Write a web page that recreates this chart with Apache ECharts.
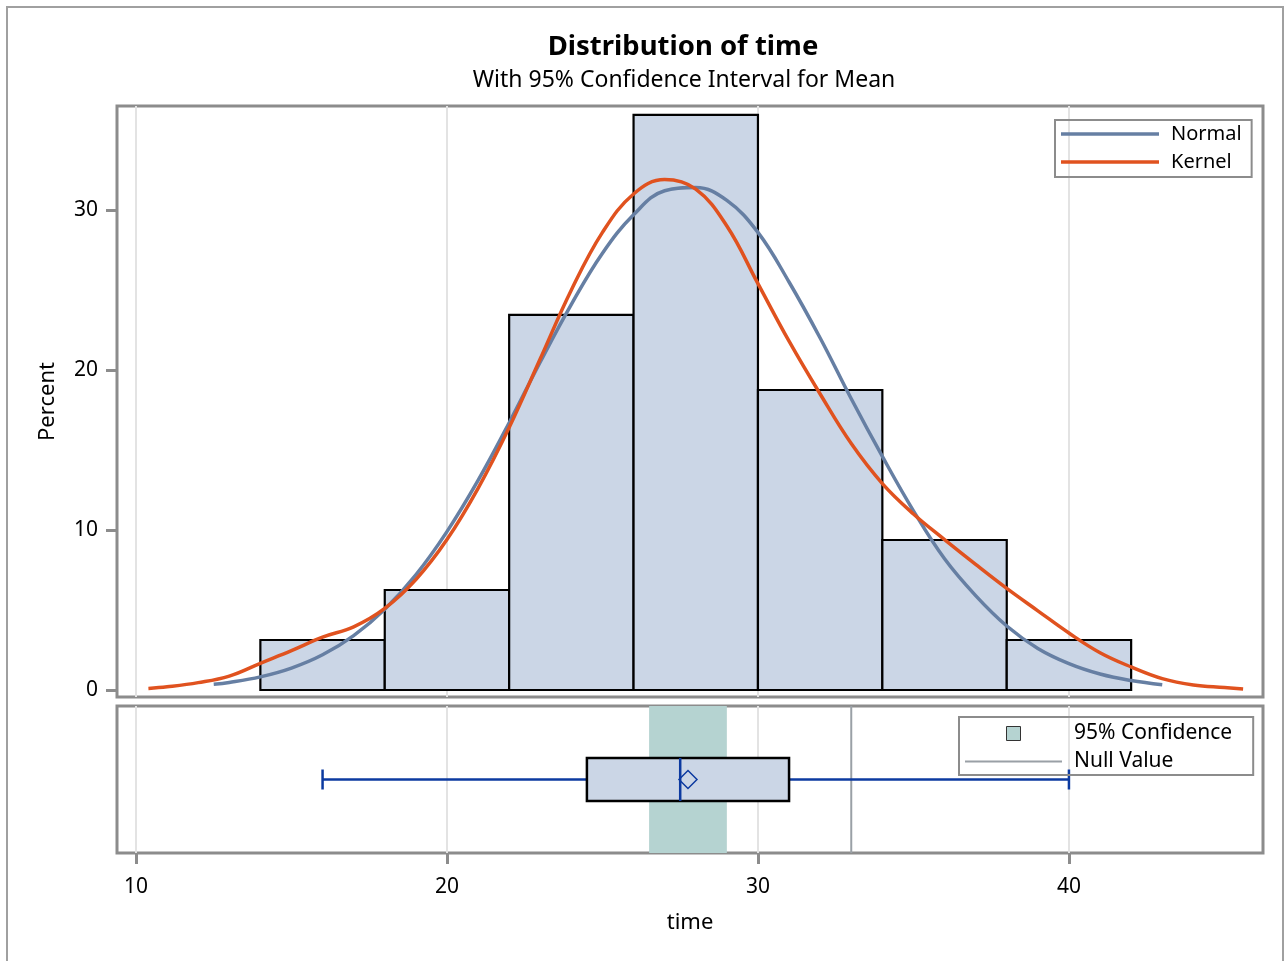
<!DOCTYPE html>
<html>
<head>
<meta charset="utf-8">
<title>Distribution of time</title>
<script src="https://cdn.jsdelivr.net/npm/echarts@6/dist/echarts.min.js"></script>
<style>
    html, body { margin: 0; padding: 0; background: #fff; }
    #main { width: 1285px; height: 961px; }
</style>
</head>
<body>
<div id="main"></div>
<script>
// histogram bins (percent of obs)
var binEdges = [14, 18, 22, 26, 30, 34, 38, 42];
var binPercent = [3.125, 6.25, 23.44, 35.94, 18.75, 9.375, 3.125];

// normal curve
var normalX = [12.5, 13, 14, 15, 16, 17, 18, 19, 20, 21, 22, 23, 24, 25, 26, 27, 28, 29, 30,
    31, 32, 33, 34, 35, 36, 37, 38, 39, 40, 41, 42, 43];
var normalY = [0.36, 0.47, 0.82, 1.37, 2.2, 3.4, 5.05, 7.2, 9.9, 13.1, 16.7, 20.5, 24.1, 27.3, 29.7, 31.2, 31.4, 30.6, 28.6,
    25.5, 22.0, 18.2, 14.6, 11.2, 8.2, 5.9, 4.0, 2.6, 1.65, 1.0, 0.59, 0.33];

// kernel curve
var kernelX = [10.4, 11, 12, 13, 14, 15, 16, 17, 18, 19, 20, 21, 22, 23, 24, 25, 26, 27, 28,
    29, 30, 31, 32, 33, 34, 35, 36, 37, 38, 39, 40, 41, 42, 43, 44, 45, 45.6];
var kernelY = [0.1, 0.2, 0.46, 0.87, 1.67, 2.46, 3.3, 3.95, 5.1, 6.9, 9.4, 12.6, 16.4, 20.7, 25.0, 28.6, 31.0, 31.9, 31.3,
    29.0, 25.4, 21.8, 18.5, 15.4, 12.9, 11.0, 9.4, 7.85, 6.35, 4.95, 3.56, 2.33, 1.44, 0.71, 0.31, 0.15, 0.06];

// box plot: min, q1, median, q3, max, mean
var boxStats = [16, 24.5, 27.5, 31, 40, 27.75];
var ciLimits = [26.5, 29.0];
var nullValue = 33;

var xTicks = [10, 20, 30, 40];
var yTicks = [0, 10, 20, 30];

var FONT = 'Noto Sans';
var FRAME = '#8c8c8c';
var LINE_ICON = 'path://M0,0L100,0L100,3.4L0,3.4Z';

function pairs(xs, ys) {
    var out = [];
    for (var i = 0; i < xs.length; i++) {
        out.push([xs[i], ys[i]]);
    }
    return out;
}

var histData = [];
for (var i = 0; i < binPercent.length; i++) {
    histData.push([binEdges[i], binEdges[i + 1], binPercent[i]]);
}

var myChart = echarts.init(document.getElementById('main'), null, {renderer: 'canvas'});

var option = {
    backgroundColor: '#fff',
    animation: false,
    textStyle: {fontFamily: FONT},
    graphic: [
        {
            type: 'rect', silent: true, z: -10,
            shape: {x: 7, y: 7, width: 1276, height: 1000},
            style: {fill: null, stroke: '#a0a0a0', lineWidth: 2}
        },
        {
            type: 'text', x: 683, y: 47,
            style: {
                text: 'Distribution of time', fontFamily: FONT, fontSize: 27.5, fontWeight: 'bold',
                fill: '#000', align: 'center', verticalAlign: 'middle'
            }
        },
        {
            type: 'text', x: 684, y: 80,
            style: {
                text: 'With 95% Confidence Interval for Mean', fontFamily: FONT, fontSize: 23,
                fill: '#000', align: 'center', verticalAlign: 'middle'
            }
        }
    ],
    legend: [
        {
            data: [
                {name: 'Normal', icon: LINE_ICON, itemStyle: {color: '#667fa3'}},
                {name: 'Kernel', icon: LINE_ICON, itemStyle: {color: '#e0521f'}}
            ],
            orient: 'vertical',
            left: 1055, top: 120,
            itemWidth: 98, itemHeight: 14, itemGap: 8,
            padding: [4, 10, 5, 6],
            borderColor: FRAME, borderWidth: 2,
            selectedMode: false,
            textStyle: {fontFamily: FONT, fontSize: 20, color: '#000', padding: [0, 0, 0, 7]}
        },
        {
            data: [
                {
                    name: '95% Confidence',
                    icon: 'path://M0,0L10,0L10,10L0,10Z',
                    itemStyle: {color: '#b5d3d1', borderColor: '#333', borderWidth: 1}
                },
                {name: 'Null Value', icon: 'path://M0,0L100,0L100,2.2L0,2.2Z', itemStyle: {color: '#9aa0a6'}}
            ],
            orient: 'vertical',
            left: 959, top: 717,
            itemWidth: 97, itemHeight: 14, itemGap: 7,
            padding: [6, 21, 3, 6],
            borderColor: FRAME, borderWidth: 2,
            selectedMode: false,
            textStyle: {fontFamily: FONT, fontSize: 21, color: '#000', padding: [0, 0, 0, 7]}
        }
    ],
    grid: [
        {left: 117, top: 106, width: 1146, height: 591, show: true, borderColor: FRAME, borderWidth: 3},
        {left: 117, top: 706, width: 1146, height: 147, show: true, borderColor: FRAME, borderWidth: 3}
    ],
    xAxis: [
        {
            type: 'value', gridIndex: 0, min: 9.39, max: 46.24,
            axisLine: {show: false},
            axisTick: {show: false, customValues: xTicks},
            axisLabel: {show: false, customValues: xTicks},
            splitLine: {show: true, lineStyle: {color: '#e3e3e3', width: 2}}
        },
        {
            type: 'value', gridIndex: 1, min: 9.39, max: 46.24,
            name: 'time', nameLocation: 'middle', nameGap: 59,
            nameTextStyle: {fontFamily: FONT, fontSize: 22, color: '#000'},
            axisLine: {show: false},
            axisTick: {show: true, length: 11, customValues: xTicks, lineStyle: {color: FRAME, width: 3}},
            axisLabel: {customValues: xTicks, margin: 24, fontFamily: FONT, fontSize: 21, color: '#000'},
            splitLine: {show: true, lineStyle: {color: '#e3e3e3', width: 2}}
        }
    ],
    yAxis: [
        {
            type: 'value', gridIndex: 0, min: -0.4375, max: 36.5,
            name: 'Percent', nameLocation: 'middle', nameGap: 58, nameRotate: 90,
            nameTextStyle: {fontFamily: FONT, fontSize: 22, color: '#000'},
            axisLine: {show: false},
            axisTick: {show: true, length: 11, customValues: yTicks, lineStyle: {color: FRAME, width: 3}},
            axisLabel: {customValues: yTicks, margin: 19, fontFamily: FONT, fontSize: 21, color: '#000'},
            splitLine: {show: false}
        },
        {
            type: 'value', gridIndex: 1, min: 0, max: 1,
            axisLine: {show: false}, axisTick: {show: false},
            axisLabel: {show: false}, splitLine: {show: false}
        }
    ],
    series: [
        {
            // 直方图
            name: 'hist', type: 'custom', xAxisIndex: 0, yAxisIndex: 0,
            data: histData,
            encode: {x: [0, 1], y: 2},
            z: 2,
            renderItem: function (params, api) {
                var p0 = api.coord([api.value(0), 0]);
                var p1 = api.coord([api.value(1), api.value(2)]);
                return {
                    type: 'rect',
                    shape: {x: p0[0], y: p1[1], width: p1[0] - p0[0], height: p0[1] - p1[1]},
                    style: {fill: '#cbd6e6', stroke: '#000', lineWidth: 2.2}
                };
            }
        },
        {
            name: 'Normal', type: 'line', xAxisIndex: 0, yAxisIndex: 0,
            data: pairs(normalX, normalY),
            smooth: 0.4, symbol: 'none', showSymbol: false, z: 4,
            color: '#667fa3',
            lineStyle: {color: '#667fa3', width: 3.5}
        },
        {
            name: 'Kernel', type: 'line', xAxisIndex: 0, yAxisIndex: 0,
            data: pairs(kernelX, kernelY),
            smooth: 0.4, symbol: 'none', showSymbol: false, z: 5,
            color: '#e0521f',
            lineStyle: {color: '#e0521f', width: 3.5}
        },
        {
            // 置信区间带
            name: '95% Confidence', type: 'custom', xAxisIndex: 1, yAxisIndex: 1,
            data: [ciLimits],
            encode: {x: [0, 1]},
            z: 1,
            color: '#b5d3d1',
            renderItem: function (params, api) {
                var a = api.coord([api.value(0), 1]);
                var b = api.coord([api.value(1), 0]);
                return {
                    type: 'rect',
                    shape: {x: a[0], y: a[1], width: b[0] - a[0], height: b[1] - a[1]},
                    style: {fill: '#b5d3d1'}
                };
            }
        },
        {
            name: 'Null Value', type: 'line', xAxisIndex: 1, yAxisIndex: 1,
            data: [[nullValue, 0], [nullValue, 1]],
            symbol: 'none', showSymbol: false, z: 2,
            color: '#9aa0a6',
            lineStyle: {color: '#9aa0a6', width: 2}
        },
        {
            name: 'box', type: 'custom', xAxisIndex: 1, yAxisIndex: 1,
            data: [boxStats],
            encode: {x: [0, 4]},
            z: 3,
            renderItem: function (params, api) {
                var blue = '#0c3aa0';
                var pMin = api.coord([api.value(0), 0.5]);
                var pQ1 = api.coord([api.value(1), 0.5]);
                var pMed = api.coord([api.value(2), 0.5]);
                var pQ3 = api.coord([api.value(3), 0.5]);
                var pMax = api.coord([api.value(4), 0.5]);
                var pMean = api.coord([api.value(5), 0.5]);
                var cy = pMin[1];
                var hb = 21.5, hc = 10, d = 9;
                return {
                    type: 'group',
                    children: [
                        {type: 'line', shape: {x1: pMin[0], y1: cy, x2: pQ1[0], y2: cy}, style: {stroke: blue, lineWidth: 2.5}},
                        {type: 'line', shape: {x1: pQ3[0], y1: cy, x2: pMax[0], y2: cy}, style: {stroke: blue, lineWidth: 2.5}},
                        {type: 'line', shape: {x1: pMin[0], y1: cy - hc, x2: pMin[0], y2: cy + hc}, style: {stroke: blue, lineWidth: 2.5}},
                        {type: 'line', shape: {x1: pMax[0], y1: cy - hc, x2: pMax[0], y2: cy + hc}, style: {stroke: blue, lineWidth: 2.5}},
                        {
                            type: 'rect',
                            shape: {x: pQ1[0], y: cy - hb, width: pQ3[0] - pQ1[0], height: hb * 2},
                            style: {fill: '#cbd6e6', stroke: '#000', lineWidth: 2.5}
                        },
                        {type: 'line', shape: {x1: pMed[0], y1: cy - hb, x2: pMed[0], y2: cy + hb}, style: {stroke: blue, lineWidth: 2.5}},
                        {
                            type: 'polygon',
                            shape: {points: [[pMean[0], cy - d], [pMean[0] + d, cy], [pMean[0], cy + d], [pMean[0] - d, cy]]},
                            style: {fill: null, stroke: blue, lineWidth: 1.5}
                        }
                    ]
                };
            }
        }
    ]
};

myChart.setOption(option);
</script>
</body>
</html>
